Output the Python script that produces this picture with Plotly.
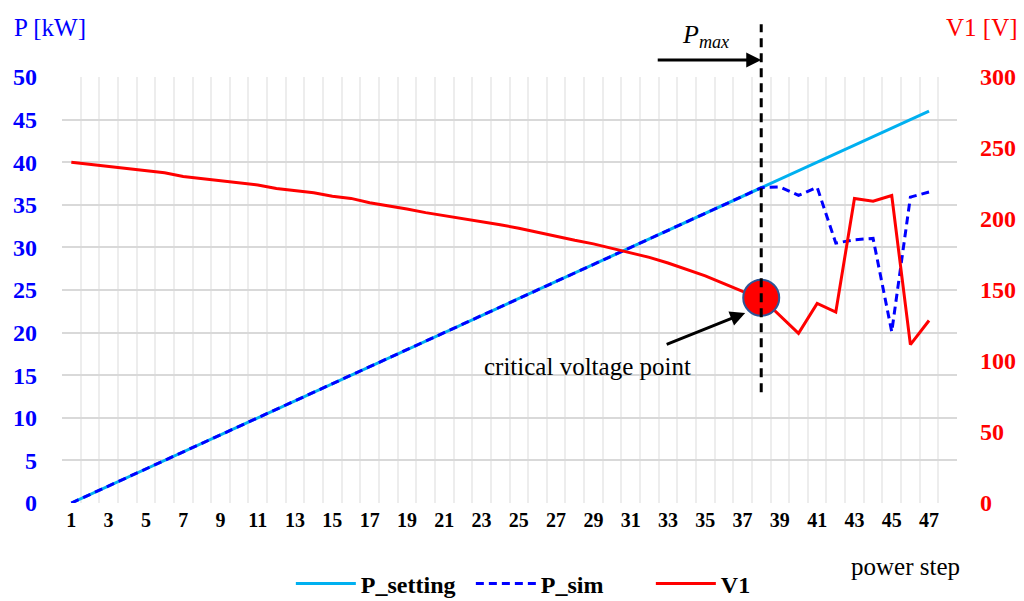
import plotly.graph_objects as go

steps = list(range(1, 48))
p_setting = [0, 1, 2, 3, 4, 5, 6, 7, 8, 9, 10, 11, 12, 13, 14, 15, 16, 17, 18, 19,
             20, 21, 22, 23, 24, 25, 26, 27, 28, 29, 30, 31, 32, 33, 34, 35, 36, 37,
             38, 39, 40, 41, 42, 43, 44, 45, 46]
p_sim = [0, 1, 2, 3, 4, 5, 6, 7, 8, 9, 10, 11, 12, 13, 14, 15, 16, 17, 18, 19,
         20, 21, 22, 23, 24, 25, 26, 27, 28, 29, 30, 31, 32, 33, 34, 35, 36, 37,
         37.1, 36.1, 37.05, 30.5, 30.9, 31.05, 20.1, 35.9, 36.5]
v1 = [240, 238.5, 237, 235.5, 234, 232.5, 230, 228.5, 227, 225.5, 224, 221.5, 220,
      218.5, 216, 214.5, 211.5, 209.5, 207, 204.5, 202.5, 200.5, 198.5, 196, 193.5,
      190.5, 188, 185, 182.5, 179.5, 176.5, 173, 169, 164.5, 160, 154.5, 149, 144.5,
      132, 119.5, 140.5, 134.5, 214.5, 212.5, 216.5, 111.5, 128.5]
x_ticks = list(range(1, 48, 2))
p_ticks = list(range(0, 51, 5))
v_ticks = list(range(0, 301, 50))
pmax_step = 38
crit_idx = pmax_step - 1

SERIF = "Liberation Serif"

fig = go.Figure()
fig.add_trace(go.Scatter(x=steps, y=p_setting, name="P_setting", mode="lines",
                         line=dict(color="#00B0F0", width=3)))
fig.add_trace(go.Scatter(x=steps, y=p_sim, name="P_sim", mode="lines",
                         line=dict(color="#0000FF", width=3, dash="8px,5px")))
fig.add_trace(go.Scatter(x=steps, y=v1, name="V1", mode="lines", yaxis="y2",
                         line=dict(color="#FF0000", width=3)))
fig.add_trace(go.Scatter(x=[steps[crit_idx]], y=[v1[crit_idx]], mode="markers",
                         yaxis="y2", showlegend=False,
                         marker=dict(size=36, color="#FF0000",
                                     line=dict(color="#2F5597", width=2))))

fig.update_layout(
    width=1024, height=601,
    margin=dict(l=62, r=67, t=77, b=98, autoexpand=False),
    plot_bgcolor="white", paper_bgcolor="white",
    font=dict(family=SERIF, color="black"),
    xaxis=dict(range=[0.5, 48.5], tickvals=x_ticks, ticktext=[str(t) for t in x_ticks],
               showgrid=False, zeroline=False, showline=False, ticks="",
               ticklabelstandoff=3, automargin=False,
               tickfont=dict(family=SERIF, size=20, color="black", weight="bold"),
               minor=dict(tick0=0.5, dtick=1, showgrid=True, gridcolor="#EDEDED",
                          gridwidth=1.5, ticks="")),
    yaxis=dict(range=[0, 50], tickvals=p_ticks, showgrid=True, gridcolor="#D9D9D9",
               gridwidth=2, zeroline=False, showline=False, ticks="",
               ticklabelstandoff=24, automargin=False,
               tickfont=dict(family=SERIF, size=24, color="#0000FF", weight="bold")),
    yaxis2=dict(range=[0, 300], tickvals=v_ticks, overlaying="y", side="right",
                showgrid=False, zeroline=False, showline=False, ticks="",
                ticklabelstandoff=22, automargin=False,
                tickfont=dict(family=SERIF, size=24, color="#FF0000", weight="bold")),
    legend=dict(orientation="h", x=0.2557, y=-0.19, xanchor="left", yanchor="middle",
                font=dict(family=SERIF, size=24, color="black", weight="bold"),
                itemwidth=60, entrywidth=105, entrywidthmode="pixels",
                bgcolor="rgba(0,0,0,0)"),
    showlegend=True,
)

fig.add_shape(type="line", xref="x", yref="paper", x0=pmax_step, x1=pmax_step,
              y0=0.26, y1=1.124, line=dict(color="black", width=3, dash="9px,6px"))

fig.add_annotation(xref="x", yref="paper", x=pmax_step, y=1.04, ax=-105, ay=0,
                   text="", showarrow=True, arrowhead=2, arrowsize=1, arrowwidth=3,
                   arrowcolor="black", standoff=0)
fig.add_annotation(xref="x", yref="paper", x=35.0, y=1.139, showarrow=False,
                   text="<i>P<sub>max</sub></i>",
                   font=dict(family=SERIF, size=26, color="black"))
fig.add_annotation(xref="x", yref="y", x=37.14, y=22.3, ax=-80, ay=32, text="",
                   showarrow=True, arrowhead=2, arrowsize=1, arrowwidth=3,
                   arrowcolor="black", standoff=0)
fig.add_annotation(xref="x", yref="y", x=28.67, y=16.08, showarrow=False,
                   text="critical voltage point",
                   font=dict(family=SERIF, size=25, color="black"))
fig.add_annotation(xref="paper", yref="paper", x=-0.0559, y=1.117, xanchor="left",
                   yanchor="middle", showarrow=False, text="P [kW]",
                   font=dict(family=SERIF, size=25, color="#0000FF"))
fig.add_annotation(xref="paper", yref="paper", x=1.0704, y=1.117, xanchor="right",
                   yanchor="middle", showarrow=False, text="V1 [V]",
                   font=dict(family=SERIF, size=25, color="#FF0000"))
fig.add_annotation(xref="paper", yref="paper", x=0.942, y=-0.150, xanchor="center",
                   yanchor="middle", showarrow=False, text="power step",
                   font=dict(family=SERIF, size=25, color="black"))

fig.write_html("out.html",
               config={"displayModeBar": False},
               post_script="document.body.style.margin='0px';"
                           "document.body.style.overflow='hidden';")
